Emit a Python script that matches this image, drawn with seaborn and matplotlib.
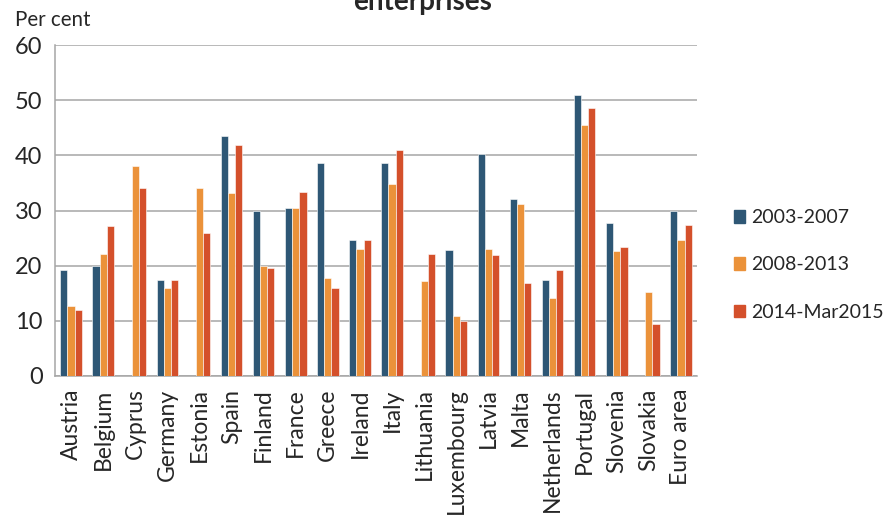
import numpy as np
import pandas as pd
import seaborn as sns
import matplotlib.pyplot as plt
from matplotlib.ticker import FixedLocator

countries = ["Austria", "Belgium", "Cyprus", "Germany", "Estonia", "Spain", "Finland",
             "France", "Greece", "Ireland", "Italy", "Lithuania", "Luxembourg", "Latvia",
             "Malta", "Netherlands", "Portugal", "Slovenia", "Slovakia", "Euro area"]
periods = ["2003-2007", "2008-2013", "2014-Mar2015"]

p2003 = [19.2, 19.9, np.nan, 17.4, np.nan, 43.5, 30.0, 30.4, 38.7, 24.6,
         38.7, np.nan, 22.8, 40.3, 32.0, 17.4, 50.9, 27.7, np.nan, 29.9]
p2008 = [12.65, 22.2, 38.1, 15.9, 34.0, 33.1, 20.0, 30.4, 17.7, 23.1,
         34.8, 17.2, 10.9, 23.1, 31.2, 14.2, 45.5, 22.6, 15.2, 24.6]
p2014 = [12.0, 27.2, 34.0, 17.4, 25.9, 41.8, 19.6, 33.3, 15.9, 24.6,
         40.9, 22.2, 9.9, 22.0, 16.8, 19.2, 48.5, 23.3, 9.4, 27.4]

colors = ["#2E5775", "#EB923A", "#D4502B"]

df = pd.DataFrame({
    "country": countries * 3,
    "period": [periods[0]] * 20 + [periods[1]] * 20 + [periods[2]] * 20,
    "value": p2003 + p2008 + p2014,
})

sns.set_style("white")
plt.rcParams["font.family"] = ["Lato", "DejaVu Sans"]

fig = plt.figure(figsize=(8.84, 5.16), dpi=100)
ax = fig.add_axes([55 / 884, 1 - 376 / 516, 642 / 884, 331 / 516])

sns.barplot(data=df, x="country", y="value", hue="period", palette=colors,
            saturation=1, width=0.67, edgecolor="white", linewidth=0.4, ax=ax,
            legend=False, zorder=3)

grid = "#A6A6A6"
ax.set_ylim(0, 60)
ax.set_xlim(-0.5, 19.5)
ax.set_yticks(range(0, 61, 10))
ax.yaxis.grid(True, color=grid, lw=1.1, zorder=0)
ax.set_axisbelow(True)
for s in ["top", "right"]:
    ax.spines[s].set_visible(False)
ax.spines["left"].set_color(grid)
ax.spines["bottom"].set_color(grid)
ax.spines["left"].set_linewidth(1.1)
ax.spines["bottom"].set_linewidth(1.1)

ax.tick_params(axis="y", length=6, color=grid, width=1.1, labelsize=17, pad=3)
ax.tick_params(axis="x", which="major", length=0, labelsize=16.5, pad=9,
               labelrotation=90)
ax.xaxis.set_minor_locator(FixedLocator(np.arange(-0.5, 20, 1)))
ax.tick_params(axis="x", which="minor", length=9, color=grid, width=1.1)
ax.set_xlabel("")
ax.set_ylabel("")

fig.text(15 / 884, 1 - 20 / 516, "Per cent", fontsize=14.8, va="center", ha="left")
# title is clipped at the top edge, as in the source image
fig.text(423 / 884, 1 - 2 / 516, "enterprises", fontsize=20, fontweight="bold",
         ha="center", va="center")

handles = [plt.Rectangle((0, 0), 1, 1, color=c) for c in colors]
fig.legend(handles, periods, loc="center left", bbox_to_anchor=(716 / 884, 1 - 265 / 516),
           frameon=False, fontsize=14, handlelength=0.6, handleheight=0.6,
           handletextpad=0.3, labelspacing=1.55)

fig.savefig("out.png", dpi=100)
